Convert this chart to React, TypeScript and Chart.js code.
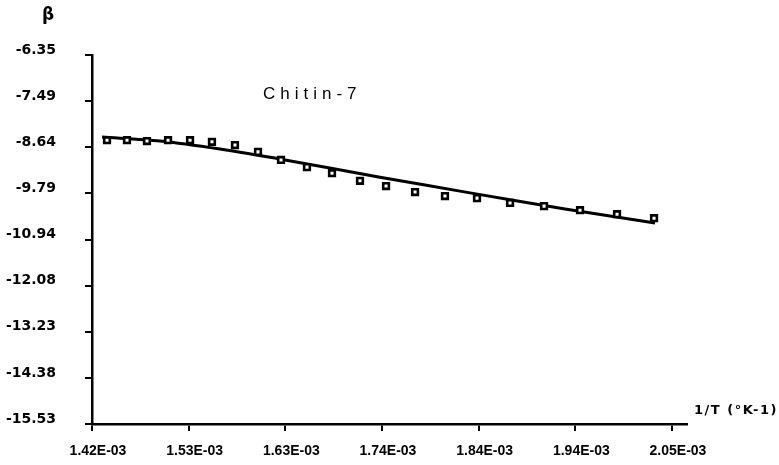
import React, { useEffect, useRef } from "react";
import { Chart, registerables } from "chart.js";

Chart.register(...registerables);

// Measured points (1/T in K^-1, β)
const X_POINTS = [
  1.4363, 1.458, 1.4797, 1.5026, 1.5265, 1.5503, 1.5753, 1.6003, 1.6253, 1.6535, 1.6807,
  1.7111, 1.7394, 1.7709, 1.8034, 1.8382, 1.8741, 1.911, 1.9501, 1.9903, 2.0305,
].map((v) => v * 1e-3);
const Y_POINTS = [
  -8.47, -8.47, -8.49, -8.47, -8.47, -8.51, -8.59, -8.76, -8.96, -9.14, -9.29,
  -9.48, -9.61, -9.76, -9.86, -9.91, -10.03, -10.11, -10.21, -10.31, -10.41,
];

// Fitted curve
const FIT_X = [1.4309, 1.4939, 1.559, 1.6296, 1.7328, 1.8306, 1.9338, 2.0315].map((v) => v * 1e-3);
const FIT_Y = [-8.39, -8.49, -8.69, -8.96, -9.39, -9.78, -10.18, -10.53];

// Axes
const X_TICKS = [1.42, 1.525, 1.63, 1.735, 1.84, 1.945, 2.05].map((v) => v * 1e-3);
const X_TICK_LABELS = ["1.42E-03", "1.53E-03", "1.63E-03", "1.74E-03", "1.84E-03", "1.94E-03", "2.05E-03"];
const X_MIN = 1.42e-3;
const X_MAX = 2.0663e-3;
const Y_TICK_LABELS = ["-15.53", "-14.38", "-13.23", "-12.08", "-10.94", "-9.79", "-8.64", "-7.49", "-6.35"];
const Y_MIN = -15.53;
const Y_MAX = -6.35;
const Y_TICKS = Y_TICK_LABELS.map((_, i) => Y_MIN + (i * (Y_MAX - Y_MIN)) / 8);

const SERIES_LABEL = "Chitin-7";
const Y_TITLE = "β";
const X_TITLE = "1/T (°K-1)";

const textPlugin = {
  id: "texts",
  afterDraw(chart: any) {
    const ctx = chart.ctx as CanvasRenderingContext2D;
    ctx.save();
    ctx.fillStyle = "#000";
    ctx.textBaseline = "middle";
    ctx.textAlign = "center";
    ctx.font = "bold 17px 'DejaVu Sans'";
    ctx.fillText(Y_TITLE, 48, 16);

    (ctx as any).letterSpacing = "5px";
    ctx.font = "17px 'Liberation Sans'";
    ctx.textAlign = "left";
    ctx.fillText(SERIES_LABEL, 263, 94);

    (ctx as any).letterSpacing = "1.5px";
    ctx.font = "bold 13px 'DejaVu Sans'";
    ctx.fillText(X_TITLE, 694, 411);
    (ctx as any).letterSpacing = "0px";
    ctx.restore();
  },
};

export default function App() {
  const ref = useRef<HTMLCanvasElement>(null);
  useEffect(() => {
    if (!ref.current) return;
    const chart = new Chart(ref.current, {
      type: "scatter",
      data: {
        datasets: [
          {
            label: "fit",
            type: "line",
            data: FIT_X.map((x, i) => ({ x, y: FIT_Y[i] })),
            borderColor: "#000",
            borderWidth: 3,
            pointRadius: 0,
            tension: 0.3,
            showLine: true,
            order: 2,
          } as any,
          {
            label: SERIES_LABEL,
            data: X_POINTS.map((x, i) => ({ x, y: Y_POINTS[i] })),
            pointStyle: "rect",
            pointRadius: 4,
            borderWidth: 2.6,
            borderColor: "#000",
            backgroundColor: "#fff",
            order: 1,
          },
        ],
      },
      options: {
        animation: false,
        responsive: false,
        maintainAspectRatio: false,
        layout: { padding: { top: 55, right: 92, left: 0, bottom: 0 } },
        plugins: { legend: { display: false }, tooltip: { enabled: false } },
        scales: {
          x: {
            type: "linear",
            min: X_MIN,
            max: X_MAX,
            afterBuildTicks: (s: any) => {
              s.ticks = X_TICKS.map((v) => ({ value: v }));
            },
            afterFit: (s: any) => {
              s.height = 41;
            },
            border: { color: "#000", width: 2.5 },
            grid: { drawOnChartArea: false, drawTicks: true, tickLength: 7, color: "#000", lineWidth: 2 },
            ticks: {
              color: "#000",
              font: { family: "'Liberation Sans'", size: 14, weight: "bold" },
              padding: 12,
              labelOffset: 6,
              maxRotation: 0,
              autoSkip: false,
              callback: (_v: any, i: number) => X_TICK_LABELS[i],
            },
          },
          y: {
            type: "linear",
            min: Y_MIN,
            max: Y_MAX,
            afterBuildTicks: (s: any) => {
              s.ticks = Y_TICKS.map((v) => ({ value: v }));
            },
            afterFit: (s: any) => {
              s.width = 92;
            },
            border: { color: "#000", width: 2.5 },
            grid: { drawOnChartArea: false, drawTicks: true, tickLength: 7, color: "#000", lineWidth: 2 },
            ticks: {
              color: "#000",
              font: { family: "'DejaVu Sans'", size: 14, weight: "bold" },
              padding: 29,
              labelOffset: -5,
              autoSkip: false,
              callback: (_v: any, i: number) => Y_TICK_LABELS[i],
            },
          },
        },
      },
      plugins: [textPlugin],
    });
    return () => chart.destroy();
  }, []);
  return (
    <div style={{ position: "absolute", left: 0, top: 0, width: 779, height: 465, background: "#fff" }}>
      <canvas ref={ref} width={779} height={465} style={{ width: 779, height: 465 }} />
    </div>
  );
}
